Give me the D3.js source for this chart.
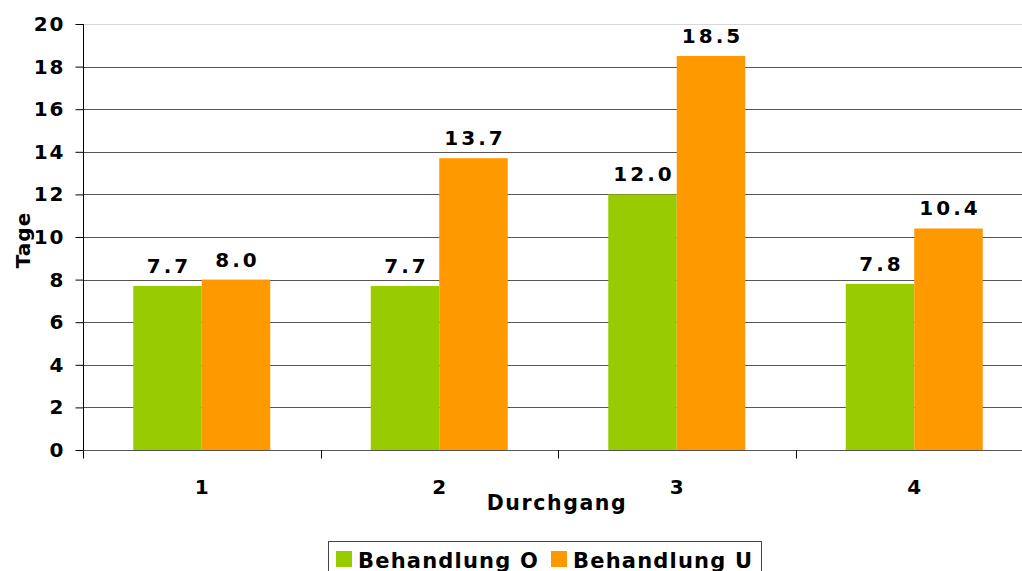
<!DOCTYPE html>
<html><head><meta charset="utf-8">
<script src="https://cdn.jsdelivr.net/npm/d3@7"></script>
<style>body{margin:0;background:#fff;overflow:hidden}text{font-family:"DejaVu Sans",Verdana,sans-serif;font-weight:bold;fill:#000}</style>
</head><body><svg id="c" width="1022" height="571"></svg>
<script>
const categories = ["1","2","3","4"];
const seriesNames = ["Behandlung O","Behandlung U"];
const valuesO = [7.7, 7.7, 12.0, 7.8];
const valuesU = [8.0, 13.7, 18.5, 10.4];
const yTicks = [0,2,4,6,8,10,12,14,16,18,20];
const colors = ["#99CC00","#FF9900"];

const svg = d3.select("#c");
const x0 = d3.scaleBand().domain(categories).range([83,1033]).paddingInner(0).paddingOuter(0);
const y = d3.scaleLinear().domain([0,20]).range([450,24]);
const x1 = d3.scaleBand().domain(seriesNames).range([0,137]);
const offset = (x0.bandwidth()-137)/2;

// gridlines
svg.append("g").selectAll("line").data(yTicks.filter(d=>d>0)).join("line")
  .attr("x1",83).attr("x2",1022).attr("y1",d=>Math.round(y(d))+0.5).attr("y2",d=>Math.round(y(d))+0.5)
  .attr("stroke",d=>d===20?"#d8d8d8":"#555").attr("stroke-width",1);

// bars
const data = categories.map((c,i)=>({c, vals:[valuesO[i],valuesU[i]]}));
const g = svg.append("g");
data.forEach(d=>{
  d.vals.forEach((v,j)=>{
    g.append("rect").attr("x",x0(d.c)+offset+x1(seriesNames[j])).attr("width",x1.bandwidth())
      .attr("y",y(v)).attr("height",y(0)-y(v)).attr("fill",colors[j]);
    g.append("text").attr("x",x0(d.c)+offset+x1(seriesNames[j])+x1.bandwidth()/2+1.5).attr("y",y(v)-13)
      .attr("text-anchor","middle").attr("font-size",20).attr("letter-spacing",3).text(v.toFixed(1));
  });
});

// y axis
const yAxis = d3.axisLeft(y).tickValues(yTicks).tickSize(8).tickPadding(10).tickFormat(d3.format("d"));
const ya = svg.append("g").attr("transform","translate(83.5,0)").call(yAxis);
ya.select(".domain").attr("stroke","#000").attr("d","M0,24V450");
ya.selectAll(".tick line").attr("stroke","#000");
ya.selectAll(".tick text").attr("font-size",20).attr("letter-spacing",2).attr("font-family","DejaVu Sans").attr("font-weight","bold").attr("fill","#000");

// x axis
const xa = svg.append("g").attr("transform","translate(0,450.5)");
xa.append("line").attr("x1",83).attr("x2",1022).attr("stroke","#555");
xa.selectAll("line.t").data(categories.concat(["end"])).join("line").attr("class","t")
  .attr("x1",(d,i)=>Math.round(83+i*x0.bandwidth())+0.5).attr("x2",(d,i)=>Math.round(83+i*x0.bandwidth())+0.5)
  .attr("y1",0).attr("y2",8).attr("stroke","#000");
xa.selectAll("text").data(categories).join("text").attr("x",d=>x0(d)+x0.bandwidth()/2).attr("y",43)
  .attr("text-anchor","middle").attr("font-size",20).text(d=>d);

// titles
svg.append("text").attr("transform","translate(30,240) rotate(-90)").attr("text-anchor","middle").attr("font-size",20).attr("letter-spacing",1).text("Tage");
svg.append("text").attr("x",557).attr("y",510).attr("text-anchor","middle").attr("font-size",20.5).attr("letter-spacing",1.6).text("Durchgang");

// legend
const lg = svg.append("g");
lg.append("rect").attr("x",328.5).attr("y",541.5).attr("width",433).attr("height",40).attr("fill","#fff").attr("stroke","#444");
const items = [{n:seriesNames[0],c:colors[0],x:336},{n:seriesNames[1],c:colors[1],x:551}];
items.forEach(it=>{
  lg.append("rect").attr("x",it.x).attr("y",551).attr("width",16).attr("height",16).attr("fill",it.c);
  lg.append("text").attr("x",it.x+22).attr("y",568).attr("font-size",21).attr("letter-spacing",1.2).text(it.n);
});
</script></body></html>
